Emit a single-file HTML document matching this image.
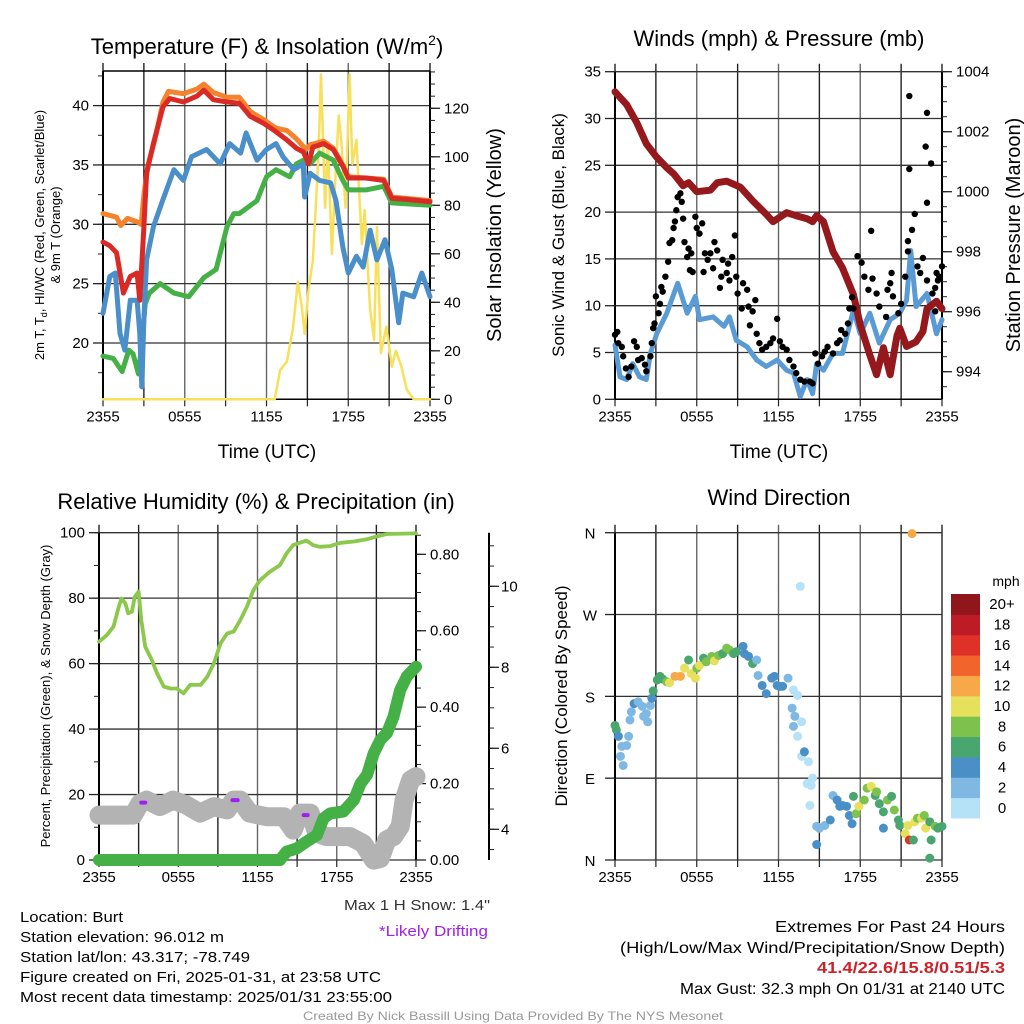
<!DOCTYPE html>
<html><head><meta charset="utf-8"><style>
html,body{margin:0;padding:0;background:#fff;}
svg{display:block;font-family:"Liberation Sans",sans-serif;}
</style></head><body>
<svg id="chart" width="1024" height="1024" viewBox="0 0 1024 1024" xmlns="http://www.w3.org/2000/svg">
<rect width="1024" height="1024" fill="#fff"/>
<g id="gTL"></g>
<g id="gTR"></g>
<g id="gBL"></g>
<g id="gBR"></g>

<text x="267" y="54" font-size="22" text-anchor="middle">Temperature (F) &amp; Insolation (W/m<tspan dy="-9" font-size="14">2</tspan><tspan dy="9">)</tspan></text>
<text x="779" y="46" font-size="22" text-anchor="middle">Winds (mph) &amp; Pressure (mb)</text>
<text x="256" y="509" font-size="22" text-anchor="middle">Relative Humidity (%) &amp; Precipitation (in)</text>
<text x="779" y="505" font-size="22" text-anchor="middle">Wind Direction</text>

<text x="267" y="458" font-size="19" text-anchor="middle">Time (UTC)</text>
<text x="779" y="458" font-size="19" text-anchor="middle">Time (UTC)</text>

<text transform="translate(44,235) rotate(-90)" font-size="13" text-anchor="middle">2m T, T<tspan font-size="9" dy="3">d</tspan><tspan dy="-3">, HI/WC (Red, Green, Scarlet/Blue)</tspan></text>
<text transform="translate(60,235) rotate(-90)" font-size="13" text-anchor="middle">&amp; 9m T (Orange)</text>
<text transform="translate(501,235) rotate(-90)" font-size="20" text-anchor="middle">Solar Insolation (Yellow)</text>
<text transform="translate(564,235) rotate(-90)" font-size="17" text-anchor="middle">Sonic Wind &amp; Gust (Blue, Black)</text>
<text transform="translate(1020,235) rotate(-90)" font-size="20" text-anchor="middle">Station Pressure (Maroon)</text>
<text transform="translate(50,696) rotate(-90)" font-size="13" text-anchor="middle">Percent, Precipitation (Green), &amp; Snow Depth (Gray)</text>
<text transform="translate(567,696) rotate(-90)" font-size="17" text-anchor="middle">Direction (Colored By Speed)</text>

<text x="20" y="922" font-size="15" textLength="103" lengthAdjust="spacingAndGlyphs">Location: Burt</text>
<text x="20" y="942" font-size="15" textLength="204" lengthAdjust="spacingAndGlyphs">Station elevation: 96.012 m</text>
<text x="20" y="962" font-size="15" textLength="230" lengthAdjust="spacingAndGlyphs">Station lat/lon: 43.317; -78.749</text>
<text x="20" y="982" font-size="15" textLength="361" lengthAdjust="spacingAndGlyphs">Figure created on Fri, 2025-01-31, at 23:58 UTC</text>
<text x="20" y="1002" font-size="15" textLength="372" lengthAdjust="spacingAndGlyphs">Most recent data timestamp: 2025/01/31 23:55:00</text>
<text x="344" y="910" font-size="15" fill="#333" textLength="146" lengthAdjust="spacingAndGlyphs">Max 1 H Snow: 1.4"</text>
<text x="379" y="936" font-size="15" fill="#a020f0" textLength="109" lengthAdjust="spacingAndGlyphs">*Likely Drifting</text>
<text x="775" y="932" font-size="16" textLength="230" lengthAdjust="spacingAndGlyphs">Extremes For Past 24 Hours</text>
<text x="620" y="953" font-size="16" textLength="385" lengthAdjust="spacingAndGlyphs">(High/Low/Max Wind/Precipitation/Snow Depth)</text>
<text x="817" y="973" font-size="16" font-weight="bold" fill="#cc2229" textLength="188" lengthAdjust="spacingAndGlyphs">41.4/22.6/15.8/0.51/5.3</text>
<text x="680" y="994" font-size="16" textLength="325" lengthAdjust="spacingAndGlyphs">Max Gust: 32.3 mph On 01/31 at 2140 UTC</text>
<text x="303" y="1020" font-size="12" fill="#999" textLength="420" lengthAdjust="spacingAndGlyphs">Created By Nick Bassill Using Data Provided By The NYS Mesonet</text>
</svg>
<script>
// ---------- data ----------
const xTickLabels = ["2355","0555","1155","1755","2355"];
const xTickHours = [0,6,12,18,24];
// Temperature panel
const tempHours = [0,0.5,1.0,1.5,2.0,2.5,2.7,3.0,3.2,3.7,4.4,4.9,5.9,6.9,7.4,8.1,9.1,10.0,10.8,11.8,12.7,13.5,14.2,14.7,15.1,15.4,16.2,16.9,17.6,18.0,19.3,20.6,21.2,22.3,24];
const tempValues = [28.5,28.2,27.6,24.2,25.6,25.9,23.6,29.8,34.3,36.8,39.9,40.6,40.3,40.8,41.3,40.5,40.3,40.2,39.1,38.5,37.8,37.1,36.4,36.1,35.1,36.5,36.8,36.3,34.9,33.9,33.9,33.7,32.2,32.1,31.9];
const t9Hours = [0,1.0,1.3,1.8,2.5,2.8,3.0,3.3,3.8,4.4,4.8,5.9,6.9,7.4,8.1,9.1,10.0,10.8,11.8,12.7,13.5,14.2,14.9,15.2,16.2,16.9,17.6,18.0,20.6,21.2,24];
const t9Values = [30.9,30.6,29.9,30.5,30.2,30.0,32.5,35.0,37.1,40.3,41.2,41.0,41.4,41.8,41.1,40.7,40.7,39.5,38.8,38.1,37.9,37.2,36.3,36.7,37.0,36.4,35.0,34.0,33.8,32.3,32.0];
const wcHours = [0,0.5,0.9,1.25,1.6,2.0,2.5,2.7,2.85,3.0,3.2,3.7,4.4,5.2,5.9,6.5,7.6,8.6,9.3,10.1,10.5,11.3,12.0,12.7,13.2,14.0,14.7,14.8,15.2,15.9,16.7,17.1,17.6,18.0,18.6,19.1,19.6,20.1,20.7,21.2,21.7,22.0,22.8,23.4,24];
const wcValues = [22.5,25.6,25.9,20.8,19.4,23.6,23.6,20.8,16.3,22.0,27.0,29.8,32.1,34.6,33.7,35.7,36.3,35.1,36.8,36.0,37.7,35.4,36.3,36.8,35.7,34.6,35.1,32.3,34.3,33.7,33.5,32.0,28.1,25.9,27.3,26.4,29.5,27.0,28.7,26.2,21.7,24.2,23.9,25.9,23.9];
const dewHours = [0,0.75,1.4,1.9,2.2,2.6,2.85,3.1,3.4,4.2,5.2,6.3,7.4,8.3,9.1,9.6,10.0,11.3,12.0,12.7,13.7,14.2,14.7,15.2,15.9,16.9,17.6,18.0,19.3,20.6,21.2,24];
const dewValues = [18.9,18.7,17.6,19.4,19.1,17.4,19.9,23.3,24.2,25.0,24.2,23.9,25.5,26.2,29.8,30.9,30.9,32.0,34.0,34.6,34.0,35.1,35.4,35.1,36.0,35.4,33.7,32.9,32.9,33.2,31.8,31.6];
const solHours = [0,12.6,13.0,13.5,13.96,14.3,14.6,14.8,15.1,15.4,15.8,16.0,16.3,16.5,16.8,17.0,17.3,17.5,17.8,18.1,18.3,18.6,19.0,19.2,19.6,19.9,20.1,20.4,20.8,21.2,21.5,21.9,22.3,22.8,24];
const solValues = [0,0,12,15.5,30,48.5,38,27,46,57,99,134,79,106,60,85,117,106,79,134,97,107,64,78,37,24.5,71,19,30,13.5,20,13.5,4,0,0];
const tempTicks = [20,25,30,35,40];
const solTicks = [0,20,40,60,80,100,120];
// Wind panel
const presHours = [0,0.86,1.6,2.3,3.06,3.8,4.3,5.0,5.4,6.0,7.0,7.5,8.2,9.2,10.1,11.1,11.6,12.6,13.3,14.1,14.5,14.8,15.3,16.0,16.7,17.5,18.0,18.7,19.2,19.7,20.2,20.7,20.9,21.4,22.1,22.6,22.9,23.6,24];
const presValues = [1003.33,1002.9,1002.3,1001.6,1001.15,1000.8,1000.6,1000.2,1000.3,1000.0,1000.05,1000.3,1000.35,1000.15,999.7,999.25,999.0,999.3,999.2,999.1,999.0,999.2,999.0,998.0,997.46,996.57,995.56,994.56,993.9,994.8,993.9,995.2,995.45,994.84,995.0,995.34,996.1,996.35,996.1];
const windHours = [0,0.37,0.86,1.3,1.8,2.3,2.6,3.06,3.8,4.6,5.3,5.9,6.2,7.2,8.0,8.4,8.9,9.7,10.4,11.1,11.9,12.6,13.1,13.6,14.1,14.5,14.8,15.3,16.0,16.7,17.5,18.0,18.7,19.4,20.2,20.9,21.4,21.7,22.1,22.9,23.6,24];
const windValues = [5.8,2.4,2.1,3.8,2.4,2.1,4.9,7.0,9.2,12.4,9.2,11.0,8.5,8.8,7.8,8.8,6.3,5.6,4.2,3.5,4.2,3.1,2.8,0.3,2.1,0.6,3.8,3.1,4.9,4.9,9.5,7.0,9.2,6.0,8.5,9.2,10.6,15.9,9.9,11.3,7.0,8.5];
const gustHours = [0,0.17,0.24,0.5,0.6,0.8,1.0,1.2,1.4,1.6,1.7,1.96,2.2,2.3,2.6,2.7,2.8,2.9,3.0,3.2,3.3,3.4,3.5,3.7,3.9,4.0,4.2,4.3,4.4,4.5,4.6,4.8,4.9,5.0,5.1,5.3,5.4,5.5,5.6,5.7,5.9,6.0,6.2,6.4,6.5,6.6,6.8,7.0,7.2,7.3,7.5,7.7,7.8,7.9,8.2,8.3,8.4,8.6,8.8,8.9,9.0,9.3,9.4,9.7,9.8,9.9,10.1,10.3,10.4,10.6,10.8,11.1,11.4,11.6,11.9,12.1,12.3,12.6,12.8,13.1,13.3,13.6,13.9,14.3,14.5,14.7,14.9,15.2,15.4,15.6,16.0,16.3,16.5,16.6,16.9,17.1,17.2,17.4,17.5,17.8,18.1,18.3,18.6,18.8,18.9,19.2,19.4,19.9,20.2,20.3,20.0,20.4,20.8,21.0,21.3,21.5,21.5,21.6,21.6,21.8,22.0,22.2,22.4,22.6,22.9,22.8,22.9,22.9,23.2,23.3,23.5,23.6,23.7,23.8,24,23.5];
const gustValues = [6.9,7.2,6.0,5.6,4.6,3.3,2.4,3.5,6.2,5.6,4.2,4.4,3.7,3.0,4.6,6.0,7.6,8.1,11.0,9.2,10.2,12.0,11.5,13.1,14.7,16.7,17.0,18.3,19.0,20.2,21.6,22.0,21.1,19.3,16.8,15.2,16.1,13.8,15.6,13.6,19.5,18.3,17.7,18.8,13.6,15.6,14.9,15.6,14.0,16.8,15.9,11.9,13.1,14.9,13.5,14.5,12.7,15.2,17.5,13.1,11.3,9.7,12.4,11.7,9.9,7.9,9.4,10.6,7.0,6.0,5.3,5.6,6.0,6.5,8.6,6.2,5.6,5.3,4.2,3.5,2.8,2.1,1.9,1.9,1.7,4.9,3.8,4.6,5.1,5.6,4.9,6.0,6.3,7.4,7.0,8.1,9.7,10.9,9.7,15.3,14.6,13.1,11.7,18.0,12.9,11.3,9.9,8.8,12.4,13.5,11.7,11.0,9.2,10.2,13.1,15.8,16.9,32.4,24.6,18.1,19.8,14.2,13.5,15.1,12.7,27.0,30.6,21.0,25.2,11.3,11.9,13.5,12.7,13.1,14.2,9.4];
const windTicks = [0,5,10,15,20,25,30,35];
const presTicks = [994,996,998,1000,1002,1004];
// Humidity panel
const rhHours = [0,0.6,1.1,1.5,1.7,2.0,2.2,2.5,2.7,3.0,3.2,3.5,4.0,4.4,4.9,5.4,5.9,6.4,6.9,7.7,8.2,8.7,9.2,9.7,10.2,10.7,11.2,11.7,12.2,12.95,13.7,14.2,14.7,15.7,16.2,16.7,17.5,18.3,19.3,20.3,21.0,21.8,24];
const rhValues = [66.7,68.7,71.3,77.4,79.9,78.4,75.4,75.9,80.4,82.0,73.3,65.2,61.1,57.0,53.0,52.4,52.4,50.9,53.5,53.5,56.0,60.1,66.2,69.2,69.8,73.3,77.4,82.5,85.5,88.1,90.1,93.7,96.2,97.6,96.2,95.7,95.9,96.9,97.3,98.0,98.8,99.6,99.8];
const precipHours = [0,13.7,14.2,14.97,15.7,16.5,17.0,17.5,18.5,19.3,19.8,20.3,20.8,21.3,21.8,22.3,22.8,23.3,24];
const precipValues = [0,0,0.022,0.03,0.048,0.065,0.109,0.122,0.127,0.157,0.2,0.223,0.279,0.314,0.332,0.375,0.445,0.48,0.506];
const snowHours = [0,2.6,3.1,3.6,4.6,5.6,6.6,7.65,8.7,9.7,10.2,10.7,11.4,12.7,14.0,14.7,15.2,16.0,16.5,17.2,19.0,20.0,20.8,21.3,21.8,22.3,22.8,23.1,23.6,24];
const snowValues = [4.35,4.35,4.64,4.72,4.56,4.72,4.6,4.4,4.56,4.48,4.72,4.72,4.4,4.31,4.31,3.98,4.4,4.4,3.9,3.82,3.82,3.65,3.24,3.28,3.74,3.82,4.07,4.72,5.22,5.3];
const driftStartHours = [3.2,10.1,15.5];
const driftEndHours = [3.5,10.5,15.8];
const driftValues = [4.66,4.72,4.35];
const rhTicks = [0,20,40,60,80,100];
const precipTicks = [0,0.2,0.4,0.6,0.8];
const precipTickLabels = ["0.00","0.20","0.40","0.60","0.80"];
const snowTicks = [4,6,8,10];
// Direction panel
const dirHours = [0,0.1,0.25,0.5,0.4,0.6,0.86,1,1.1,1.2,1.4,1.7,2.0,2.1,2.3,2.4,2.6,2.7,2.8,3.1,3.3,3.5,3.8,4.0,4.4,4.8,5.1,5.4,5.6,5.9,6.0,6.2,6.5,6.7,7.1,7.3,7.6,7.9,8.2,8.4,8.7,8.9,9.4,9.5,9.8,10.1,10.4,10.5,10.8,11.1,11.5,11.7,11.9,12.1,12.3,12.7,13.1,13.4,13.0,13.2,13.7,13.1,13.4,13.6,13.7,13.9,14.2,14.1,14.4,14.5,14.3,14.8,14.8,15.0,15.4,15.8,16.0,16.3,16.5,16.7,17.0,17.2,17.4,17.5,17.7,17.9,18.3,18.5,18.8,19.1,19.2,19.4,19.7,19.7,20.0,20.3,20.5,20.8,20.9,21.3,21.5,21.6,21.9,22.0,22.2,22.5,22.7,22.8,23.1,23.2,23.1,23.5,23.7,24,21.8];
const dirValues = [148,143,136,125,114,104,126,136,154,163,172,174,169,158,161,152,170,178,186,198,202,199,196,195,202,202,211,220,205,200,211,214,222,218,224,219,225,227,233,231,227,229,235,227,224,216,220,203,192,183,200,202,192,191,191,200,187,181,167,158,152,147,136,301,114,119,108,84,82,90,60,17,37,35,38,44,71,66,59,60,59,49,40,70,51,59,66,79,81,71,75,62,53,35,66,70,55,44,38,29,38,22,22,42,46,46,49,35,42,22,2,37,35,37,359];
const dirSpeeds = [6,6,4,2,2,2,2,2,2,2,4,2,2,2,2,2,2,4,6,6,6,6,8,10,12,12,10,6,10,10,8,10,6,8,8,10,8,6,8,8,6,6,4,4,4,6,2,2,4,4,4,4,4,4,4,2,0,0,2,2,0,2,0,0,0,4,0,0,0,0,0,4,2,2,2,4,2,4,4,4,4,4,4,6,8,10,8,8,10,6,8,6,6,4,8,6,8,6,6,10,10,16,6,10,8,10,8,10,6,6,6,8,6,6,12];
const dirLabels = ["N","E","S","W","N"];
const dirTicks = [0,90,180,270,360];
const speedBins = [0,2,4,6,8,10,12,14,16,18,20];
const speedLabels = ["0","2","4","6","8","10","12","14","16","18","20+"];
const speedColors = ["#b5e2f7","#7fb9e3","#4a90c7","#4aa66f","#7cc24c","#e7e05c","#f7a848","#f1652c","#df3128","#bd1c26","#91161c"];

// ---------- helpers ----------
const NS = "http://www.w3.org/2000/svg";
function mk(parent, tag, attrs){
  const el = document.createElementNS(NS, tag);
  for (const k in attrs) el.setAttribute(k, attrs[k]);
  parent.appendChild(el);
  return el;
}
function pathFrom(hs, vs, xf, yf){
  let d = "";
  for (let i = 0; i < hs.length; i++) d += (i ? "L" : "M") + xf(hs[i]).toFixed(1) + "," + yf(vs[i]).toFixed(1);
  return d;
}
function frame(g, x0, x1, y0, y1, xf, name){
  for (let h = 0; h <= 24; h += 3){
    const x = xf(h);
    const l = mk(g, "line", {x1:x, x2:x, y1:y0-8, y2:y1, stroke: (h%6===0 && h>0 && h<24) ? "#666" : "#222", "stroke-width":1.4});
    
    
    const t = mk(g, "line", {x1:x, x2:x, y1:y1, y2:y1+7, stroke:"#222", "stroke-width":1.2});
    
    
  }
  for (let i = 0; i < xTickHours.length; i++){
    const t = mk(g, "text", {x:xf(xTickHours[i]), y:y1+22, "font-size":15, "text-anchor":"middle"});
    
    
    t.textContent = xTickLabels[i];
  }
}
function yAxis(g, x, y0, y1, ticks, labels, yf, side, minorStep, lo, hi, name, labelDx){
  const ax = mk(g, "line", {x1:x, x2:x, y1:y0, y2:y1, stroke:"#000", "stroke-width":2});
  
  
  const dir = side === "left" ? -1 : 1;
  if (minorStep){
    for (let v = lo; v <= hi + 1e-9; v += minorStep){
      const y = yf(v);
      if (y < y0 - 0.5 || y > y1 + 0.5) continue;
      const m = mk(g, "line", {x1:x, x2:x+dir*5, y1:y, y2:y, stroke:"#222", "stroke-width":1});
      
      
    }
  }
  for (let i = 0; i < ticks.length; i++){
    const y = yf(ticks[i]);
    const m = mk(g, "line", {x1:x, x2:x+dir*10, y1:y, y2:y, stroke:"#222", "stroke-width":1.3});
    
    
    const t = mk(g, "text", {x: x + dir*(labelDx||14), y:y+5, "font-size":15, "text-anchor": side === "left" ? "end" : "start"});
    
    
    t.textContent = labels[i];
  }
}
function hgrid(g, x0, x1, ticks, yf, name){
  for (const v of ticks){
    const y = yf(v);
    const l = mk(g, "line", {x1:x0, x2:x1, y1:y, y2:y, stroke:"#333", "stroke-width":1.3});
    
    
  }
}
function series(g, hs, vs, xf, yf, color, w, name){
  const p = mk(g, "path", {d:pathFrom(hs, vs, xf, yf), fill:"none", stroke:color, "stroke-width":w, "stroke-linejoin":"round", "stroke-linecap":"round"});
  
  
  return p;
}

// ---------- Temperature panel ----------
(function(){
  const g = document.getElementById("gTL");
  const X0=103, X1=430, Y0=71, Y1=399.3;
  const xf = h => X0 + h*(X1-X0)/24;
  const yf = v => 343 - (v-20)*11.87;
  const ys = w => Y1 - w*2.425;
  frame(g, X0, X1, Y0, Y1, xf, "temperature");
  hgrid(g, X0, X1, tempTicks, yf, "temperature");
  mk(g,"line",{x1:X0,x2:X1,y1:Y0,y2:Y0,stroke:"#000","stroke-width":1.5});
  mk(g,"line",{x1:X0,x2:X1,y1:Y1,y2:Y1,stroke:"#000","stroke-width":1.5});
  yAxis(g, X0, Y0, Y1, tempTicks, tempTicks.map(String), yf, "left", 2.5, 15, 42.5, "temperature-left");
  yAxis(g, X1, Y0, Y1, solTicks, solTicks.map(String), ys, "right", 5, 0, 135, "insolation-right");
  series(g, solHours, solValues, xf, ys, "#f7e05a", 2.5, "insolation-line");
  series(g, dewHours, dewValues, xf, yf, "#45b045", 5, "dewpoint-line");
  series(g, wcHours, wcValues, xf, yf, "#4a8fc9", 5, "windchill-line");
  series(g, t9Hours, t9Values, xf, yf, "#f5822d", 5, "temp-9m-line");
  series(g, tempHours, tempValues, xf, yf, "#d92a25", 5, "temp-2m-line");
})();

// ---------- Wind panel ----------
(function(){
  const g = document.getElementById("gTR");
  const X0=615, X1=942, Y0=71.7, Y1=399.3;
  const xf = h => X0 + h*(X1-X0)/24;
  const yf = v => Y1 - v*(Y1-Y0)/35;
  const yp = p => 371.7 - (p-994)*30;
  frame(g, X0, X1, Y0, Y1, xf, "wind");
  hgrid(g, X0, X1, windTicks, yf, "wind");
  mk(g,"line",{x1:X0,x2:X1,y1:Y1,y2:Y1,stroke:"#000","stroke-width":1.5});
  yAxis(g, X0, Y0, Y1, windTicks, windTicks.map(String), yf, "left", 0, 0, 0, "wind-left");
  yAxis(g, X1, Y0, Y1, presTicks, presTicks.map(String), yp, "right", 0.5, 993, 1004, "pressure-right");
  series(g, windHours, windValues, xf, yf, "#5a9bd5", 5, "sonic-wind-line");
  series(g, presHours, presValues, xf, yp, "#95181c", 7, "pressure-line");
  for (let i = 0; i < gustHours.length; i++){
    const c = mk(g, "circle", {cx:xf(gustHours[i]), cy:yf(gustValues[i]), r:3.2, fill:"#000"});
    
    
  }
})();

// ---------- Humidity panel ----------
(function(){
  const g = document.getElementById("gBL");
  const X0=99, X1=416, Y0=532.7, Y1=860;
  const xf = h => X0 + h*(X1-X0)/24;
  const yf = v => Y1 - v*(Y1-Y0)/100;
  const yp = p => Y1 - p*382.1;
  const ysn = s => 829.3 - (s-4)*40.5;
  frame(g, X0, X1, Y0, Y1, xf, "humidity");
  hgrid(g, X0, X1, rhTicks, yf, "humidity");
  yAxis(g, X0, Y0, Y1, rhTicks, rhTicks.map(String), yf, "left", 10, 0, 100, "humidity-left");
  yAxis(g, X1, Y0, Y1, precipTicks, precipTickLabels, yp, "right", 0.05, 0, 0.85, "precip-right");
  yAxis(g, 489, Y0, Y1, snowTicks, snowTicks.map(String), ysn, "right", 0.5, 3.5, 11, "snow-right", 12);
  series(g, rhHours, rhValues, xf, yf, "#8cc84b", 3.8, "humidity-line");
  series(g, snowHours, snowValues, xf, ysn, "#b3b3b3", 19, "snow-depth-line");
  series(g, precipHours, precipValues, xf, yp, "#45b045", 12, "precip-line");
  for (let i = 0; i < driftValues.length; i++){
    const l = mk(g, "line", {x1:xf(driftStartHours[i]), x2:xf(driftEndHours[i]), y1:ysn(driftValues[i]), y2:ysn(driftValues[i]), stroke:"#a020f0", "stroke-width":4, "stroke-linecap":"round"});
    
    
  }
})();

// ---------- Direction panel ----------
(function(){
  const g = document.getElementById("gBR");
  const X0=615, X1=942, Y0=532.7, Y1=860;
  const xf = h => X0 + h*(X1-X0)/24;
  const yf = d => Y1 - d*(Y1-Y0)/360;
  frame(g, X0, X1, Y0, Y1, xf, "direction");
  hgrid(g, X0, X1, dirTicks, yf, "direction");
  const ax = mk(g,"line",{x1:X0,x2:X0,y1:Y0,y2:Y1,stroke:"#000","stroke-width":2});
  
  
  for (let i = 0; i < dirTicks.length; i++){
    const y = yf(dirTicks[i]);
    const tk = mk(g,"line",{x1:X0-10,x2:X0,y1:y,y2:y,stroke:"#222","stroke-width":1.3});
    
    
    const t = mk(g,"text",{x:590,y:y+6,"font-size":15,"text-anchor":"middle"});
    
    
    t.textContent = dirLabels[i];
  }
  for (let i = 0; i < dirHours.length; i++){
    let b = 0;
    for (let k = 0; k < speedBins.length; k++) if (dirSpeeds[i] >= speedBins[k]) b = k;
    const c = mk(g,"circle",{cx:xf(dirHours[i]), cy:yf(dirValues[i]), r:4.5, fill:speedColors[b]});
    
    
  }
  const cbX = 951, cbW = 29, cbTop = 594, cbBot = 818;
  const h = (cbBot - cbTop)/speedColors.length;
  for (let i = 0; i < speedColors.length; i++){
    const y = cbBot - (i+1)*h;
    const r = mk(g,"rect",{x:cbX, y:y, width:cbW, height:h+0.5, fill:speedColors[i]});
    
    
    const t = mk(g,"text",{x:1002, y:y+h/2+5, "font-size":15, "text-anchor":"middle"});
    
    
    t.textContent = speedLabels[i];
  }
  const u = mk(g,"text",{x:1006, y:586, "font-size":14, "text-anchor":"middle"});
  
  
  u.textContent = "mph";
})();
</script>
</body></html>
